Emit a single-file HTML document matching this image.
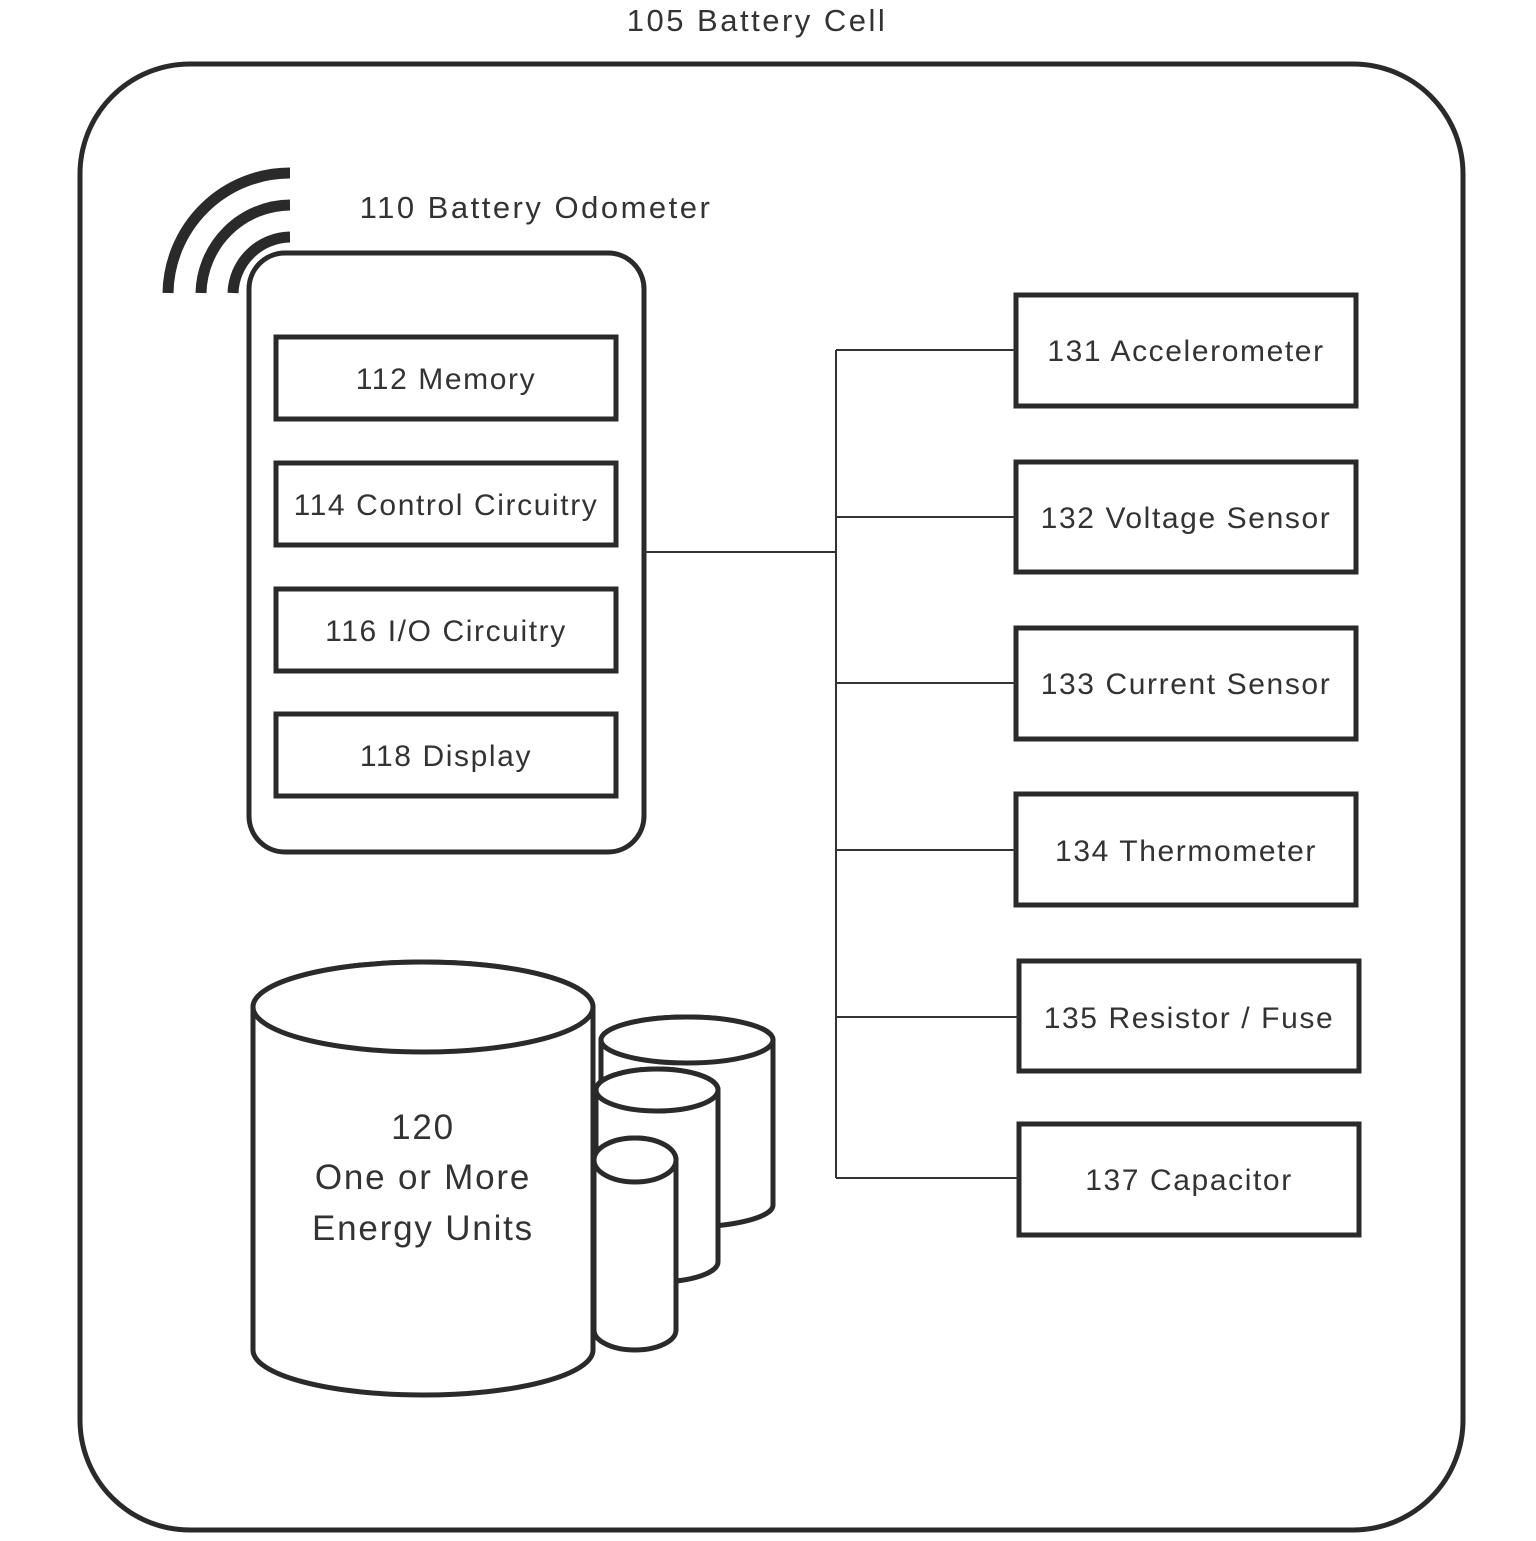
<!DOCTYPE html>
<html><head><style>
body{margin:0;background:#fff;}
svg{display:block;}
text{font-family:"Liberation Sans",sans-serif;fill:#333;}
</style></head><body>
<svg width="1536" height="1541" viewBox="0 0 1536 1541" xmlns="http://www.w3.org/2000/svg">
<g fill="none" stroke="#2a2a2a" stroke-width="5">
<rect x="80" y="64" width="1383" height="1466" rx="110"/>
<rect x="249" y="253" width="395" height="599" rx="36"/>
<rect x="276" y="337" width="340" height="82"/>
<rect x="276" y="463" width="340" height="82"/>
<rect x="276" y="589" width="340" height="82"/>
<rect x="276" y="714" width="340" height="82"/>
<rect x="1016" y="295" width="340" height="111"/>
<rect x="1016" y="462" width="340" height="110"/>
<rect x="1016" y="628" width="340" height="111"/>
<rect x="1016" y="794" width="340" height="111"/>
<rect x="1019" y="961" width="340" height="110"/>
<rect x="1019" y="1124" width="340" height="111"/>
</g>
<g fill="none" stroke="#2a2a2a" stroke-width="11">
<path d="M168 293 A122 122 0 0 1 290 173"/>
<path d="M201 293 A90 90 0 0 1 290 205"/>
<path d="M233 293 A58 58 0 0 1 290 237"/>
</g>
<g stroke="#333" stroke-width="2" fill="none">
<line x1="644" y1="552" x2="836" y2="552"/>
<line x1="836" y1="350" x2="836" y2="1178"/>
<line x1="836" y1="350" x2="1016" y2="350"/>
<line x1="836" y1="517" x2="1016" y2="517"/>
<line x1="836" y1="683" x2="1016" y2="683"/>
<line x1="836" y1="850" x2="1016" y2="850"/>
<line x1="836" y1="1017" x2="1019" y2="1017"/>
<line x1="836" y1="1178" x2="1019" y2="1178"/>
</g>
<g fill="#fff" stroke="#2a2a2a" stroke-width="5">
<path d="M601 1040 L601 1205 A86 22 0 0 0 773 1205 L773 1040 A86 23 0 0 0 601 1040 Z"/>
<ellipse cx="687" cy="1040" rx="86" ry="23"/>
<path d="M596 1090 L596 1262 A61 20 0 0 0 718 1262 L718 1090 A61 21 0 0 0 596 1090 Z"/>
<ellipse cx="657" cy="1090" rx="61" ry="21"/>
<path d="M594 1160 L594 1330 A41 20 0 0 0 676 1330 L676 1160 A41 22 0 0 0 594 1160 Z"/>
<ellipse cx="635" cy="1160" rx="41" ry="22"/>
<path d="M253 1007 L253 1350 A170 45 0 0 0 593 1350 L593 1007 A170 45 0 0 0 253 1007 Z"/>
<ellipse cx="423" cy="1007" rx="170" ry="45"/>
</g>
<text x="757" y="31" font-size="31" text-anchor="middle" letter-spacing="2.5">105 Battery Cell</text>
<text x="536" y="218" font-size="31" text-anchor="middle" letter-spacing="2.5">110 Battery Odometer</text>
<g font-size="30" text-anchor="middle" letter-spacing="1.6">
<text x="446" y="389">112 Memory</text>
<text x="446" y="515">114 Control Circuitry</text>
<text x="446" y="641">116 I/O Circuitry</text>
<text x="446" y="766">118 Display</text>
<text x="1186" y="361">131 Accelerometer</text>
<text x="1186" y="528">132 Voltage Sensor</text>
<text x="1186" y="694">133 Current Sensor</text>
<text x="1186" y="861">134 Thermometer</text>
<text x="1189" y="1028">135 Resistor / Fuse</text>
<text x="1189" y="1190">137 Capacitor</text>
</g>
<g font-size="35" text-anchor="middle" letter-spacing="1.8">
<text x="423" y="1139">120</text>
<text x="423" y="1189">One or More</text>
<text x="423" y="1240">Energy Units</text>
</g>
</svg>
</body></html>
